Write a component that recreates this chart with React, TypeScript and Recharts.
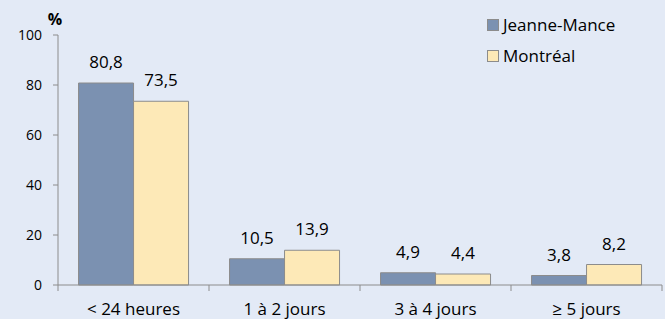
import React from 'react';
import { BarChart, Bar, XAxis, YAxis, LabelList, Label } from 'recharts';

const categories = ['< 24 heures', '1 à 2 jours', '3 à 4 jours', '≥ 5 jours'];
const jeanneMance = [80.8, 10.5, 4.9, 3.8];
const montreal = [73.5, 13.9, 4.4, 8.2];
const yTicks = [0, 20, 40, 60, 80, 100];
const seriesNames = ['Jeanne-Mance', 'Montréal'];

const data = categories.map((c, i) => ({ cat: c, jm: jeanneMance[i], mtl: montreal[i] }));

const FONT = '"Open Sans", sans-serif';
const AXIS = '#8c8c8c';
const BLUE = '#7b91b1';
const YELLOW = '#fde9b7';
const BG = '#e3eaf6';
const COLORS = [BLUE, YELLOW];

const fmt = (v: number) => v.toFixed(1).replace('.', ',');

const XTick = (props: any) => {
  const { x, y, payload } = props;
  const off = payload.offset || 0;
  const isLast = payload.value === categories[categories.length - 1];
  return (
    <g>
      <line x1={x - off} x2={x - off} y1={y} y2={y + 6} stroke={AXIS} strokeWidth={1} />
      {isLast && <line x1={x + off} x2={x + off} y1={y} y2={y + 6} stroke={AXIS} strokeWidth={1} />}
      <text x={x} y={y + 30} textAnchor="middle" fontSize={17} fontFamily={FONT} fill="#000">
        {payload.value}
      </text>
    </g>
  );
};

const PercentLabel = (props: any) => {
  const vb = props.viewBox || {};
  return (
    <text
      x={vb.x + vb.width - 3}
      y={vb.y - 10}
      textAnchor="middle"
      fontSize={16}
      fontWeight="bold"
      fontFamily={FONT}
      fill="#000"
    >
      %
    </text>
  );
};

export default function App() {
  return (
    <div style={{ position: 'absolute', left: 0, top: 0, width: 665, height: 319, background: BG }}>
      <BarChart
        width={665}
        height={319}
        data={data}
        margin={{ top: 35, right: 3, bottom: 0, left: 0 }}
        barCategoryGap="13.6%"
        barGap={0}
      >
        <XAxis
          dataKey="cat"
          height={34}
          axisLine={{ stroke: AXIS }}
          tickLine={false}
          tickSize={0}
          tickMargin={0}
          interval={0}
          tick={<XTick />}
        />
        <YAxis
          width={58}
          domain={[0, 100]}
          ticks={yTicks}
          axisLine={{ stroke: AXIS }}
          tickLine={{ stroke: AXIS }}
          tickSize={5}
          tickMargin={11}
          tick={{ fontSize: 14, fontFamily: FONT, fill: '#000' }}
        >
          <Label content={<PercentLabel />} position="top" />
        </YAxis>
        <Bar dataKey="jm" name={seriesNames[0]} fill={BLUE} stroke={AXIS} strokeWidth={1} isAnimationActive={false}>
          <LabelList dataKey="jm" position="top" offset={15} formatter={fmt} style={{ fontSize: 17, fontFamily: FONT, fill: '#000' }} />
        </Bar>
        <Bar dataKey="mtl" name={seriesNames[1]} fill={YELLOW} stroke={AXIS} strokeWidth={1} isAnimationActive={false}>
          <LabelList dataKey="mtl" position="top" offset={15} formatter={fmt} style={{ fontSize: 17, fontFamily: FONT, fill: '#000' }} />
        </Bar>
      </BarChart>
      <div style={{ position: 'absolute', left: 487, top: 9, fontFamily: FONT, fontSize: 17, color: '#000' }}>
        {seriesNames.map((n, i) => (
          <div key={n} style={{ display: 'flex', alignItems: 'center', height: 31 }}>
            <span
              style={{
                display: 'inline-block',
                width: 10,
                height: 10,
                background: COLORS[i],
                border: `1px solid ${AXIS}`,
                marginRight: 4,
              }}
            />
            <span>{n}</span>
          </div>
        ))}
      </div>
    </div>
  );
}
